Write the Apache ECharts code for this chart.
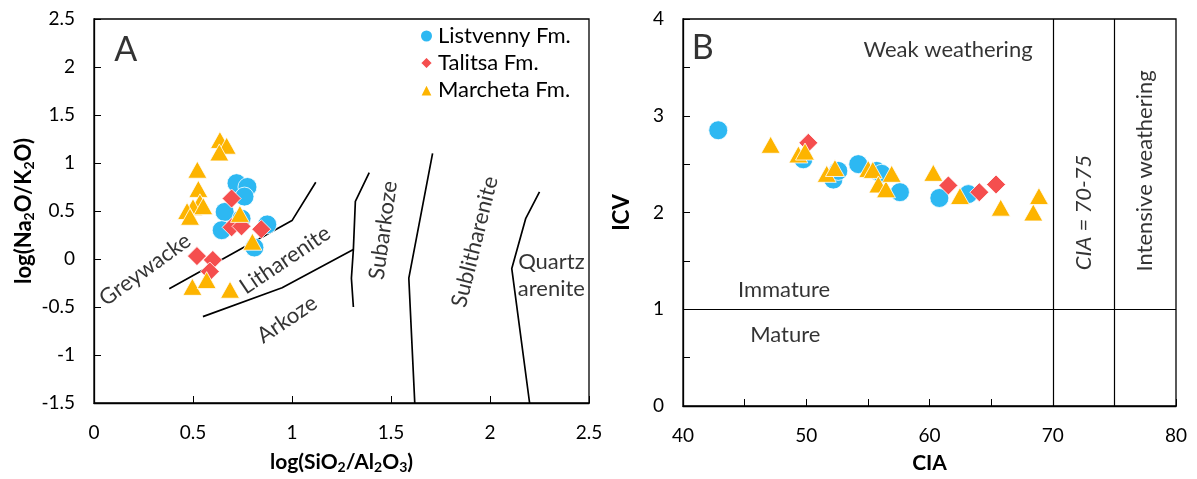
<!DOCTYPE html>
<html><head><meta charset="utf-8">
<script src="https://cdn.jsdelivr.net/npm/echarts@6/dist/echarts.min.js"></script>
<style>html,body{margin:0;padding:0;background:#fff}#c{width:1197px;height:479px}</style>
</head><body><div id="c"></div>
<script>
// ---------- Panel A: log(SiO2/Al2O3) vs log(Na2O/K2O) ----------
const listvennyA = [[0.72,0.79],[0.775,0.75],[0.76,0.65],[0.66,0.49],[0.645,0.30],[0.745,0.42],[0.875,0.36],[0.81,0.12]];
const talitsaA = [[0.695,0.63],[0.695,0.33],[0.745,0.34],[0.845,0.31],[0.52,0.03],[0.60,-0.01],[0.585,-0.13]];
const marchetaA = [[0.636,1.24],[0.67,1.18],[0.633,1.11],[0.522,0.93],[0.527,0.73],[0.535,0.59],[0.50,0.54],[0.47,0.50],[0.485,0.44],[0.552,0.55],[0.737,0.47],[0.80,0.18],[0.497,-0.29],[0.569,-0.22],[0.687,-0.32]];

// classification boundaries (Herron diagram)
const bndGreywacke = [[0.38,-0.31],[1.0,0.4],[1.12,0.8]];
const bndArkose = [[0.55,-0.6],[0.95,-0.3],[1.31,0.1]];
const bndSubarkose = [[1.31,-0.5],[1.30,-0.2],[1.31,0.1],[1.32,0.6],[1.39,0.9]];
const bndSublith = [[1.62,-1.5],[1.59,-0.2],[1.71,1.1]];
const bndQuartz = [[2.2,-1.5],[2.11,-0.1],[2.18,0.42],[2.25,0.7]];

const fieldNamesA = ['Greywacke','Litharenite','Arkoze','Subarkoze','Sublitharenite','Quartz\narenite'];
const fieldPosA = [[0.258,-0.11],[0.965,-0.01],[0.975,-0.63],[1.461,0.30],[1.924,0.18],[2.31,-0.17]];
const fieldRotA = [36,34,34,82,76,0];

// ---------- Panel B: CIA vs ICV ----------
const listvennyB = [[42.86,2.85],[49.76,2.55],[52.2,2.34],[52.6,2.43],[54.22,2.50],[55.71,2.43],[56.12,2.40],[57.6,2.21],[60.8,2.15],[63.15,2.19]];
const talitsaB = [[50.17,2.72],[61.53,2.28],[64.04,2.21],[65.4,2.29]];
const marchetaB = [[47.11,2.70],[49.36,2.60],[49.9,2.63],[51.66,2.40],[52.33,2.46],[55.03,2.45],[55.4,2.44],[55.85,2.29],[56.47,2.24],[56.93,2.40],[60.31,2.41],[62.47,2.17],[65.78,2.05],[68.42,2.00],[68.88,2.17]];

const ciaLines = [70, 75];
const icvLine = 1;
const fieldNamesB = ['Weak weathering','Immature','Mature','CIA = 70-75','Intensive weathering'];
const fieldPosB = [[61.5,3.68],[48.2,1.20],[48.3,0.73],[72.5,2.0],[77.5,2.43]];
const fieldRotB = [0,0,0,90,90];
const fieldItalicB = [false,false,false,true,false];

const seriesNames = ['Listvenny Fm.','Talitsa Fm.','Marcheta Fm.'];
const panelLabels = ['A','B'];

const FONT = 'Lato';
const COLORS = ['#2db8f2','#f54e4e','#fdb400'];
const SYMBOLS = ['circle','diamond','triangle'];
const SIZES = [19,[19,19],[19,17]];

function pts(name, idx, data, xi, yi){
  return {
    type:'scatter', name:name, xAxisIndex:xi, yAxisIndex:yi, data:data,
    symbol:SYMBOLS[idx], symbolSize:SIZES[idx],
    itemStyle:{color:COLORS[idx], borderColor:'#fff', borderWidth:0.8, opacity:1},
    z:5
  };
}
function bline(data){
  return {type:'line', data:data, xAxisIndex:0, yAxisIndex:0, symbol:'none',
    lineStyle:{color:'#000', width:1.7}, silent:true, z:3};
}
function labels(names,pos,rot,xi,yi,italic,size){
  return {type:'scatter', xAxisIndex:xi, yAxisIndex:yi, symbolSize:0, silent:true, z:4,
    data: names.map((n,i)=>({value:pos[i], label:{show:true, position:'inside', formatter:n,
      rotate:rot[i], fontStyle:(italic&&italic[i])?'italic':'normal'}})),
    label:{color:'#000', fontFamily:FONT, fontSize:size, lineHeight:size*1.22, align:'center', verticalAlign:'middle'}
  };
}

const axisLabelStyle = {color:'#000', fontFamily:FONT, fontSize:19};
function nameStyle(sz){ return {color:'#000', fontFamily:FONT, fontSize:sz, fontWeight:'bold',
  rich:{b:{fontFamily:FONT,fontSize:sz,fontWeight:'bold',color:'#000'},
        s:{fontFamily:FONT,fontSize:Math.round(sz*0.65),fontWeight:'bold',color:'#000',verticalAlign:'bottom',padding:[10,0,0,0]}}}; }
const tick = {inside:true,length:7,lineStyle:{color:'#000'}};
const aline = {onZero:false, lineStyle:{color:'#000',width:1.3}};

const chart = echarts.init(document.getElementById('c'), null, {renderer:'canvas'});
chart.setOption({
  animation:false,
  backgroundColor:'#fff',
  grid:[
    {left:94, top:19, width:495, height:389, show:true, borderColor:'#000', borderWidth:1.3},
    {left:683, top:19, width:493, height:389, show:true, borderColor:'#000', borderWidth:1.3}
  ],
  legend:{
    left:414, top:20, orient:'vertical', itemGap:5, itemWidth:13, itemHeight:13,
    textStyle:{color:'#000', fontFamily:FONT, fontSize:22},
    data:seriesNames.map((n,i)=>({name:n, icon:SYMBOLS[i]}))
  },
  xAxis:[
    {gridIndex:0, type:'value', min:0, max:2.5, interval:0.5,
     axisLine:aline, axisTick:tick, splitLine:{show:false}, axisLabel:Object.assign({margin:20},axisLabelStyle),
     name:'{b|log(SiO}{s|2}{b|/Al}{s|2}{b|O}{s|3}{b|)}', nameLocation:'middle', nameGap:47, nameTextStyle:nameStyle(21)},
    {gridIndex:1, type:'value', min:40, max:80, interval:5,
     axisLine:aline, axisTick:tick, splitLine:{show:false},
     axisLabel:Object.assign({margin:20, formatter:v=>v%10===0?String(v):''},axisLabelStyle),
     name:'CIA', nameLocation:'middle', nameGap:47, nameTextStyle:nameStyle(21)}
  ],
  yAxis:[
    {gridIndex:0, type:'value', min:-1.5, max:2.5, interval:0.5,
     axisLine:aline, axisTick:tick, splitLine:{show:false}, axisLabel:Object.assign({margin:19},axisLabelStyle),
     name:'{b|log(Na}{s|2}{b|O/K}{s|2}{b|O)}', nameLocation:'middle', nameGap:58, nameTextStyle:nameStyle(22)},
    {gridIndex:1, type:'value', min:0, max:4, interval:0.5,
     axisLine:aline, axisTick:tick, splitLine:{show:false},
     axisLabel:Object.assign({margin:19, formatter:v=>v%1===0?String(v):''},axisLabelStyle),
     name:'ICV', nameLocation:'middle', nameGap:50, nameTextStyle:nameStyle(22)}
  ],
  series:[
    bline(bndGreywacke), bline(bndArkose), bline(bndSubarkose), bline(bndSublith), bline(bndQuartz),
    labels(fieldNamesA, fieldPosA, fieldRotA, 0, 0, null, 22),
    labels([panelLabels[0]], [[0.16,2.18]], [0], 0, 0, null, 34),
    pts(seriesNames[0],0,listvennyA,0,0),
    pts(seriesNames[1],1,talitsaA,0,0),
    pts(seriesNames[2],2,marchetaA,0,0),
    {type:'line', xAxisIndex:1, yAxisIndex:1, data:[], silent:true,
     markLine:{symbol:'none', silent:true, label:{show:false}, lineStyle:{color:'#000', width:1.2, type:'solid'},
       data: ciaLines.map(v=>({xAxis:v})).concat([{yAxis:icvLine}])}},
    labels(fieldNamesB, fieldPosB, fieldRotB, 1, 1, fieldItalicB, 22),
    labels([panelLabels[1]], [[41.6,3.7]], [0], 1, 1, null, 34),
    pts(seriesNames[0],0,listvennyB,1,1),
    pts(seriesNames[1],1,talitsaB,1,1),
    pts(seriesNames[2],2,marchetaB,1,1)
  ]
});
</script></body></html>
